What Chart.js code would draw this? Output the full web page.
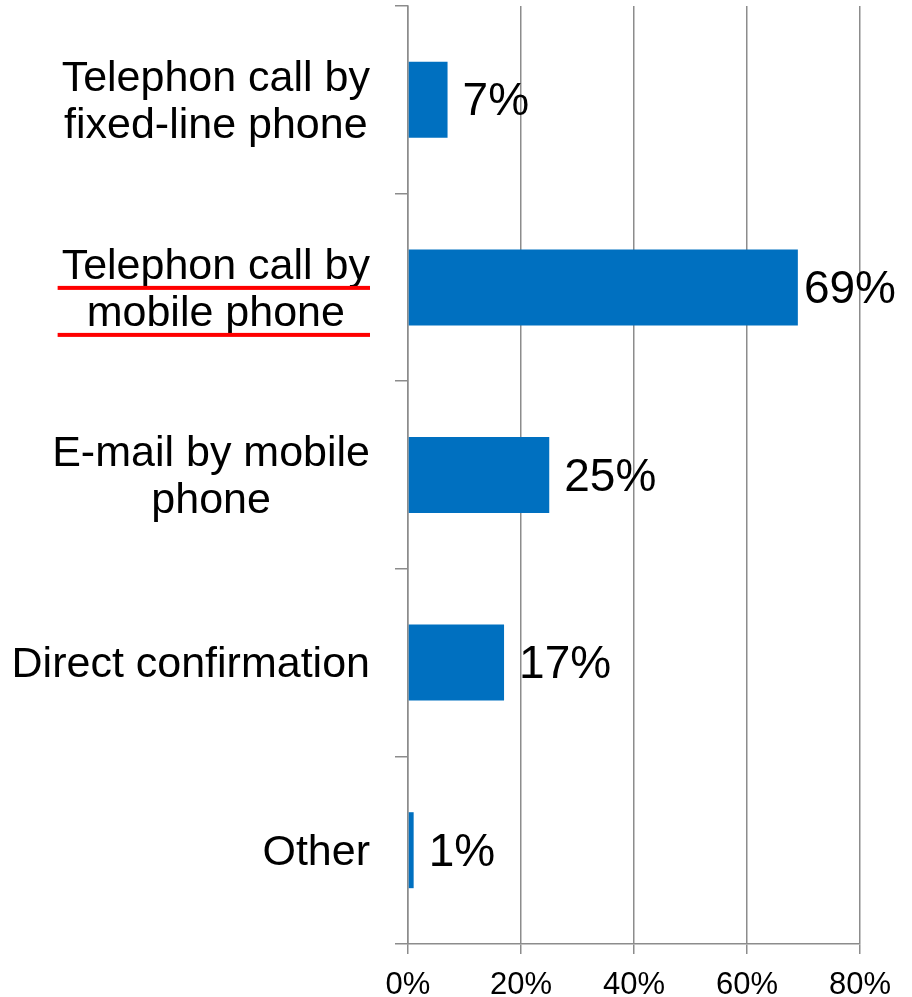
<!DOCTYPE html>
<html>
<head>
<meta charset="utf-8">
<script src="https://cdn.jsdelivr.net/npm/chart.js@4"></script>
<style>
  html, body { margin: 0; padding: 0; background: #fff; }
  #wrap { width: 912px; height: 997px; position: relative; }
</style>
</head>
<body>
<div id="wrap"><canvas id="myChart"></canvas></div>
<script>
// chart data
var categories = [
    ['Telephon call by', 'fixed-line phone'],
    ['Telephon call by', 'mobile phone'],
    ['E-mail by mobile', 'phone'],
    'Direct confirmation',
    'Other'
];
var shares = [7, 69, 25, 17, 1];
var xTicks = [0, 20, 40, 60, 80];
var highlighted = [1];

var FONT = '"Liberation Sans", Arial, sans-serif';
var GRID = '#8c8c8c';

// category labels: block right aligned, lines centred inside the block
var categoryLabels = {
    id: 'categoryLabels',
    afterDraw: function (chart) {
        var ctx = chart.ctx, y = chart.scales.y;
        var right = 370, lineH = 47;
        ctx.save();
        ctx.font = '43px ' + FONT;
        ctx.fillStyle = '#000';
        ctx.textAlign = 'center';
        ctx.textBaseline = 'middle';
        categories.forEach(function (lab, i) {
            var lines = Array.isArray(lab) ? lab : [lab];
            var w = Math.max.apply(null, lines.map(function (l) { return ctx.measureText(l).width; }));
            var cy = y.getPixelForValue(i);
            lines.forEach(function (l, k) {
                var ly = cy - (lines.length - 1) * lineH / 2 + k * lineH;
                ctx.fillText(l, right - w / 2, ly + 3);
                if (highlighted.indexOf(i) >= 0) {
                    ctx.fillStyle = '#ff0000';
                    ctx.fillRect(right - w - 4, ly + 22, w + 4, 4);
                    ctx.fillStyle = '#000';
                }
            });
        });
        ctx.restore();
    }
};

// value labels next to the bars
var valueLabels = {
    id: 'valueLabels',
    afterDatasetsDraw: function (chart) {
        var ctx = chart.ctx, meta = chart.getDatasetMeta(0);
        ctx.save();
        ctx.font = '46px ' + FONT;
        ctx.fillStyle = '#000';
        ctx.textAlign = 'left';
        ctx.textBaseline = 'middle';
        meta.data.forEach(function (bar, i) {
            var txt = shares[i] + '%';
            var w = ctx.measureText(txt).width;
            var x = Math.min(bar.x + 15, chart.width - 16 - w);
            ctx.fillText(txt, x, bar.y + 3);
        });
        ctx.restore();
    }
};

var ctx = document.getElementById('myChart').getContext('2d');
new Chart(ctx, {
    type: 'bar',
    data: {
        labels: categories,
        datasets: [{
            data: shares,
            backgroundColor: '#0070c0',
            borderWidth: 0,
            barPercentage: 0.405,
            categoryPercentage: 1
        }]
    },
    options: {
        indexAxis: 'y',
        responsive: true,
        maintainAspectRatio: false,
        animation: false,
        layout: { padding: { top: 6, right: 52, left: 0, bottom: 0 } },
        plugins: {
            legend: { display: false },
            tooltip: { enabled: false }
        },
        scales: {
            x: {
                min: xTicks[0],
                max: xTicks[xTicks.length - 1],
                afterBuildTicks: function (scale) {
                    scale.ticks = xTicks.map(function (v) { return { value: v }; });
                },
                afterFit: function (scale) { scale.height = 53; },
                grid: { color: GRID, lineWidth: 1.5, tickLength: 10 },
                border: { color: GRID, width: 1.5 },
                ticks: {
                    color: '#000',
                    padding: 13,
                    maxRotation: 0,
                    font: { family: FONT, size: 31 },
                    callback: function (v) { return v + '%'; }
                }
            },
            y: {
                type: 'category',
                offset: true,
                afterFit: function (scale) { scale.width = 408; },
                grid: { offset: true, drawOnChartArea: false, color: GRID, lineWidth: 1.5, tickLength: 13 },
                border: { color: GRID, width: 1.5 },
                ticks: { display: false }
            }
        }
    },
    plugins: [categoryLabels, valueLabels]
});
</script>
</body>
</html>
